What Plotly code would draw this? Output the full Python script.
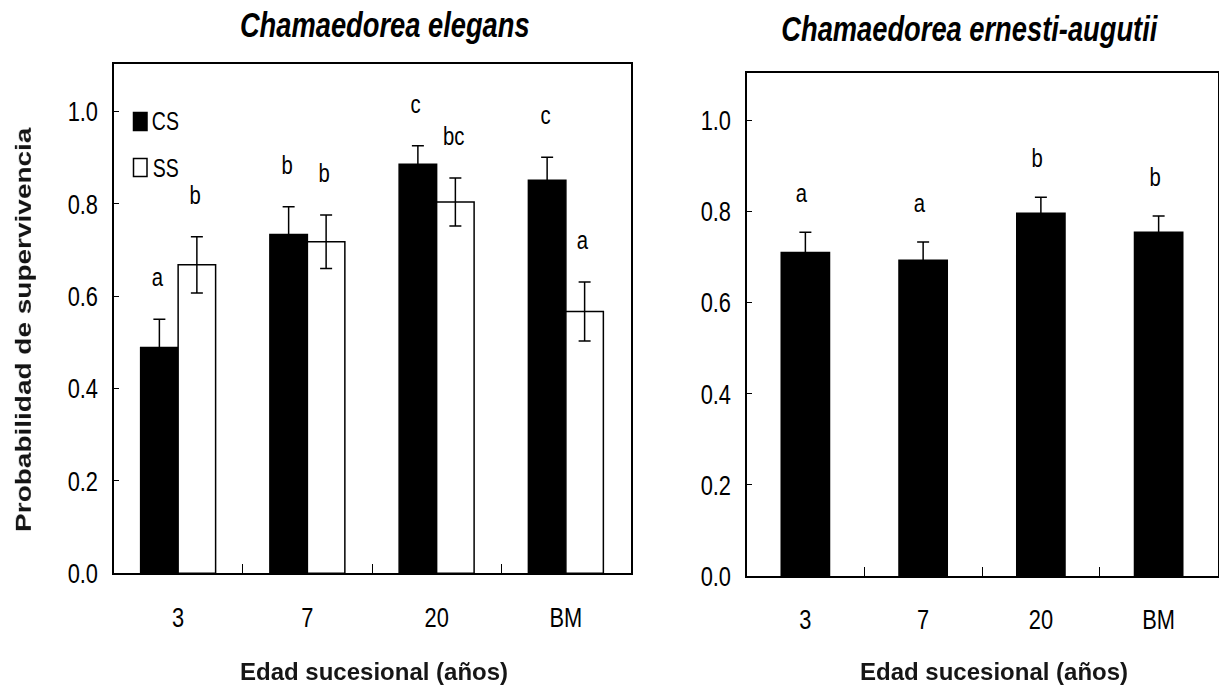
import plotly.graph_objects as go

# Survival probability by successional age for two understory palms
categories = ["3", "7", "20", "BM"]

# Chamaedorea elegans: CS and SS groups
cs_mean = [0.489, 0.734, 0.886, 0.851]
cs_err = [0.061, 0.060, 0.040, 0.050]
cs_letters = ["a", "b", "c", "c"]
ss_mean = [0.668, 0.718, 0.804, 0.567]
ss_err = [0.061, 0.058, 0.052, 0.064]
ss_letters = ["b", "b", "bc", "a"]

# Chamaedorea ernesti-augutii
ea_mean = [0.710, 0.693, 0.796, 0.754]
ea_err = [0.044, 0.040, 0.035, 0.036]
ea_letters = ["a", "a", "b", "b"]

yticks = [0.0, 0.2, 0.4, 0.6, 0.8, 1.0]

FONT = "Liberation Sans, Arial, sans-serif"
W, H = 1219, 686


def px(x):
    return x / W


def py(y):
    return 1 - y / H


pos = list(range(len(categories)))
bw_left = 0.29
bw_right = 0.41

fig = go.Figure()

fig.add_trace(go.Bar(
    x=pos, y=cs_mean, width=bw_left, offset=-bw_left, name="CS", showlegend=False,
    marker=dict(color="black", line=dict(color="black", width=1.5)),
    error_y=dict(type="data", array=cs_err, color="black", thickness=1.5, width=6),
    xaxis="x", yaxis="y",
))
fig.add_trace(go.Bar(
    x=pos, y=ss_mean, width=bw_left, offset=0, name="SS", showlegend=False,
    marker=dict(color="white", line=dict(color="black", width=1.5)),
    error_y=dict(type="data", array=ss_err, color="black", thickness=1.5, width=6),
    xaxis="x", yaxis="y",
))
fig.add_trace(go.Bar(
    x=pos, y=ea_mean, width=bw_right, name="C. ernesti-augutii", showlegend=False,
    marker=dict(color="black", line=dict(color="black", width=1.5)),
    error_y=dict(type="data", array=ea_err, color="black", thickness=1.5, width=6),
    xaxis="x2", yaxis="y2",
))

annotations = []
letter_font = dict(family=FONT, size=26, color="black")
for i in pos:
    annotations.append(dict(x=i - bw_left / 2, y=cs_mean[i] + cs_err[i], xref="x", yref="y",
                            text=cs_letters[i], showarrow=False, yanchor="middle",
                            yshift=42, xshift=-2, font=letter_font))
    annotations.append(dict(x=i + bw_left / 2, y=ss_mean[i] + ss_err[i], xref="x", yref="y",
                            text=ss_letters[i], showarrow=False, yanchor="middle",
                            yshift=42, xshift=-2, font=letter_font))
    annotations.append(dict(x=i, y=ea_mean[i] + ea_err[i], xref="x2", yref="y2",
                            text=ea_letters[i], showarrow=False, yanchor="middle",
                            yshift=39, xshift=-4, font=letter_font))

# Legend keys (CS filled, SS open)
legend_font = dict(family=FONT, size=25, color="black")
shapes = [
    dict(type="rect", xref="paper", yref="paper",
         x0=px(133.5), x1=px(147), y0=py(130.5), y1=py(112.5),
         fillcolor="black", line=dict(color="black", width=1.5)),
    dict(type="rect", xref="paper", yref="paper",
         x0=px(133.5), x1=px(147), y0=py(176.5), y1=py(158.5),
         fillcolor="white", line=dict(color="black", width=1.5)),
]
annotations.append(dict(x=px(165), y=py(121.5), xref="paper", yref="paper", text="CS",
                        showarrow=False, xanchor="center", yanchor="middle", font=legend_font))
annotations.append(dict(x=px(165), y=py(167.5), xref="paper", yref="paper", text="SS",
                        showarrow=False, xanchor="center", yanchor="middle", font=legend_font))

# Panel titles
title_font = dict(family=FONT, size=35, color="black")
annotations.append(dict(x=px(385), y=py(24.5), xref="paper", yref="paper",
                        text="<b><i>Chamaedorea elegans</i></b>", showarrow=False,
                        xanchor="center", yanchor="middle", font=title_font))
annotations.append(dict(x=px(970), y=py(28), xref="paper", yref="paper",
                        text="<b><i>Chamaedorea ernesti-augutii</i></b>", showarrow=False,
                        xanchor="center", yanchor="middle", font=title_font))

# Axis titles
xtitle_font = dict(family=FONT, size=24, color="#161616")
annotations.append(dict(x=px(374), y=py(671.5), xref="paper", yref="paper",
                        text="<b>Edad sucesional (años)</b>", showarrow=False,
                        xanchor="center", yanchor="middle", font=xtitle_font))
annotations.append(dict(x=px(994), y=py(671.5), xref="paper", yref="paper",
                        text="<b>Edad sucesional (años)</b>", showarrow=False,
                        xanchor="center", yanchor="middle", font=xtitle_font))
annotations.append(dict(x=px(23), y=py(330), xref="paper", yref="paper",
                        text="<b>Probabilidad de supervivencia</b>", showarrow=False,
                        textangle=-90, xanchor="center", yanchor="middle",
                        font=dict(family=FONT, size=28, color="#141414")))

tick_font = dict(family=FONT, size=28, color="black")


def xaxis_cfg(domain, anchor):
    return dict(
        domain=domain, range=[-0.5, 3.5], anchor=anchor, automargin=False,
        tickmode="array", tickvals=pos, ticktext=categories, ticks="",
        tickfont=tick_font, ticklabelstandoff=18,
        showline=True, linecolor="black", linewidth=1.8, mirror=True,
        showgrid=False, zeroline=False, fixedrange=True,
        minor=dict(tickmode="array", tickvals=[0.5, 1.5, 2.5], ticks="inside",
                   ticklen=9, tickwidth=1.3, tickcolor="black", showgrid=False),
    )


def yaxis_cfg(domain, anchor):
    return dict(
        domain=domain, range=[0, 1.103], anchor=anchor, automargin=False,
        tickmode="array", tickvals=yticks, tickformat=".1f",
        ticks="inside", ticklen=6, tickwidth=1.3, tickcolor="black",
        tickfont=tick_font, ticklabelstandoff=8,
        showline=True, linecolor="black", linewidth=1.8, mirror=True,
        showgrid=False, zeroline=False, fixedrange=True,
    )


fig.update_layout(
    width=W, height=H, autosize=False,
    margin=dict(l=0, r=0, t=0, b=0, autoexpand=False),
    paper_bgcolor="white", plot_bgcolor="white",
    barmode="overlay",
    xaxis=xaxis_cfg([px(113.5), px(630.5)], "y"),
    yaxis=yaxis_cfg([py(573.3), py(64)], "x"),
    xaxis2=xaxis_cfg([px(746.5), px(1217.5)], "y2"),
    yaxis2=yaxis_cfg([py(576), py(73.3)], "x2"),
    showlegend=False,
    shapes=shapes,
    annotations=annotations,
)

# The typeface of this figure is a narrow grotesque: condense the horizontal
# text to that width, and soften the axis titles.
post_script = r"""
(function(){
  var gd = document.getElementById('{plot_id}');
  if (!gd) return;
  var SX = 0.78;
  function condense(){
    try {
      var nodes = gd.querySelectorAll('.xaxislayer-above text, .yaxislayer-above text, text.annotation-text');
      nodes.forEach(function(el){
        var txt = el.textContent || '';
        if (txt.indexOf('Edad sucesional') >= 0 || txt.indexOf('Probabilidad') >= 0) {
          el.style.filter = 'blur(0.6px)';
          if (txt.indexOf('Edad sucesional') >= 0) return;
        }
        var cur = el.getAttribute('transform') || '';
        if (el.getAttribute('data-sq') === cur) return;
        var r = el.getBoundingClientRect();
        if (!r.width) return;
        var anchor = el.getAttribute('text-anchor') || '';
        var sx = anchor === 'end' ? r.right : (anchor === 'start' ? r.left : r.left + r.width / 2);
        var M = DOMMatrix.fromMatrix(el.parentNode.getScreenCTM());
        var S = new DOMMatrix().translate(sx, 0).scale(SX, 1).translate(-sx, 0);
        var N = M.inverse().multiply(S).multiply(M);
        var t = 'matrix(' + [N.a, N.b, N.c, N.d, N.e, N.f].join(',') + ') ' + cur;
        el.setAttribute('transform', t);
        el.setAttribute('data-sq', t);
      });
    } catch (e) {}
  }
  condense();
  if (gd.on) gd.on('plotly_afterplot', condense);
  setTimeout(condense, 50);
})();
"""

fig.write_html("out.html", post_script=post_script)
